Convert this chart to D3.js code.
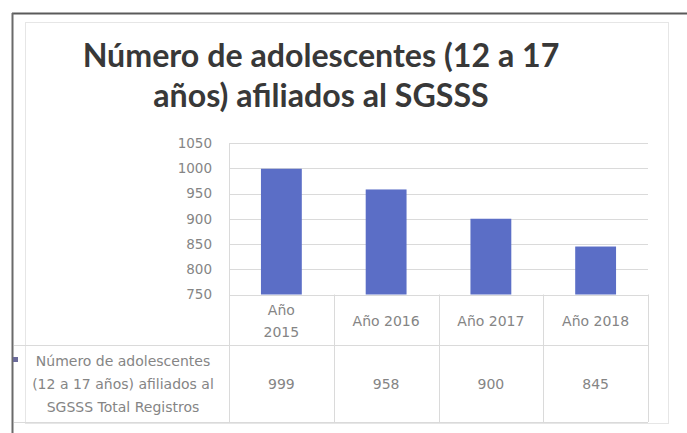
<!DOCTYPE html>
<html>
<head>
<meta charset="utf-8">
<script src="https://cdn.jsdelivr.net/npm/d3@7"></script>
<style>
  html, body { margin: 0; padding: 0; background: #ffffff; }
  svg { display: block; }
</style>
</head>
<body>
<svg id="chart" width="687" height="433"></svg>
<script>
// ---- data ----
const categories = ["Año 2015", "Año 2016", "Año 2017", "Año 2018"];
const values = [999, 958, 900, 845];
const yTicks = [750, 800, 850, 900, 950, 1000, 1050];
const titleLines = ["Número de adolescentes (12 a 17", "años) afiliados al SGSSS"];
const seriesLabelLines = ["Número de adolescentes", "(12 a 17 años) afiliados al", "SGSSS Total Registros"];
const wrappedCategories = ["Año 2015"];

// ---- layout ----
const W = 687, H = 433;
const plot = { left: 229, right: 648, top: 143, bottom: 294.5 };
const table = { headerBottom: 345, bottom: 422, left: 14 };
const barColor = "#5b6ec6";
const textGray = "#858585";
const gridGray = "#dadada";

const svg = d3.select("#chart");

// scan frame
svg.append("rect").attr("x", 0).attr("y", 0).attr("width", W).attr("height", H).attr("fill", "#ffffff");
svg.append("line").attr("x1", 12).attr("x2", W).attr("y1", 13.5).attr("y2", 13.5)
  .attr("stroke", "#5a5a5a").attr("stroke-width", 2);
svg.append("line").attr("x1", 12.5).attr("x2", 12.5).attr("y1", 13).attr("y2", H)
  .attr("stroke", "#6a6a6a").attr("stroke-width", 2);
// chart area border (light)
svg.append("rect").attr("x", 25.5).attr("y", 22.5).attr("width", 643).attr("height", 401)
  .attr("fill", "none").attr("stroke", "#e6e6e6").attr("stroke-width", 1);

// ---- title ----
const title = svg.append("g");
const titleY = [67, 107];
titleLines.forEach((t, i) => {
  title.append("text")
    .attr("x", 321).attr("y", titleY[i])
    .attr("text-anchor", "middle")
    .attr("font-family", "Lato, 'Open Sans', sans-serif")
    .attr("font-weight", "bold")
    .attr("font-size", 30)
    .attr("fill", "#383838")
    .text(t);
});
// fit first line width to about 477px
const t0 = title.select("text").node();
const w0 = t0.getComputedTextLength();
const fs = Math.max(22, Math.min(34, 30 * 477 / w0));
title.selectAll("text").attr("font-size", fs);

// ---- scales ----
const x = d3.scaleBand().domain(categories).range([plot.left, plot.right])
  .paddingInner(0.61).paddingOuter(0.305);
const xCell = d3.scaleBand().domain(categories).range([plot.left, plot.right]).padding(0);
const y = d3.scaleLinear().domain([750, 1050]).range([plot.bottom, plot.top]);

// gridlines
svg.append("g").selectAll("line").data(yTicks).join("line")
  .attr("x1", plot.left).attr("x2", plot.right)
  .attr("y1", d => Math.round(y(d)) + 0.5).attr("y2", d => Math.round(y(d)) + 0.5)
  .attr("stroke", gridGray).attr("stroke-width", 1);

// y axis labels
const yAxis = d3.axisLeft(y).tickValues(yTicks).tickFormat(d3.format("d")).tickSize(0).tickPadding(17);
const gy = svg.append("g").attr("transform", `translate(${plot.left},0)`).call(yAxis);
gy.select(".domain").attr("stroke", gridGray);
gy.selectAll("text")
  .attr("font-family", "'DejaVu Sans', sans-serif")
  .attr("font-size", 13.5)
  .attr("fill", textGray);

// bars
svg.append("g").selectAll("rect").data(values).join("rect")
  .attr("x", (d, i) => x(categories[i]))
  .attr("width", x.bandwidth())
  .attr("y", d => y(d))
  .attr("height", d => y(750) - y(d))
  .attr("fill", barColor);

// ---- data table ----
const tbl = svg.append("g");
// vertical cell lines
const vlines = categories.map(c => xCell(c)).concat([plot.right]);
tbl.selectAll("line.v").data(vlines).join("line").attr("class", "v")
  .attr("x1", d => Math.round(d) + 0.5).attr("x2", d => Math.round(d) + 0.5)
  .attr("y1", plot.bottom).attr("y2", table.bottom)
  .attr("stroke", gridGray);
// horizontal lines
tbl.append("line").attr("x1", table.left).attr("x2", plot.right)
  .attr("y1", table.headerBottom + 0.5).attr("y2", table.headerBottom + 0.5).attr("stroke", gridGray);
tbl.append("line").attr("x1", table.left).attr("x2", plot.right)
  .attr("y1", table.bottom + 0.5).attr("y2", table.bottom + 0.5).attr("stroke", gridGray);

// header labels
categories.forEach(c => {
  const cx = xCell(c) + xCell.bandwidth() / 2;
  const lines = wrappedCategories.includes(c) ? c.split(" ") : [c];
  const mid = (plot.bottom + table.headerBottom) / 2 + 1;
  lines.forEach((ln, j) => {
    tbl.append("text")
      .attr("x", cx)
      .attr("y", mid + (j - (lines.length - 1) / 2) * 22)
      .attr("dy", "0.35em")
      .attr("text-anchor", "middle")
      .attr("font-family", "'DejaVu Sans', sans-serif")
      .attr("font-size", 14)
      .attr("fill", textGray)
      .text(ln);
  });
});

// values row
tbl.selectAll("text.val").data(values).join("text").attr("class", "val")
  .attr("x", (d, i) => xCell(categories[i]) + xCell.bandwidth() / 2)
  .attr("y", (table.headerBottom + table.bottom) / 2 + 1)
  .attr("dy", "0.35em")
  .attr("text-anchor", "middle")
  .attr("font-family", "'DejaVu Sans', sans-serif")
  .attr("font-size", 14)
  .attr("fill", textGray)
  .text(d => d);

// series label with legend key
tbl.append("rect").attr("x", 13).attr("y", 357).attr("width", 5).attr("height", 5).attr("fill", "#6b6b9a");
seriesLabelLines.forEach((ln, j) => {
  tbl.append("text")
    .attr("x", 123)
    .attr("y", 361 + j * 23)
    .attr("dy", "0.35em")
    .attr("text-anchor", "middle")
    .attr("font-family", "'DejaVu Sans', sans-serif")
    .attr("font-size", 14)
    .attr("fill", textGray)
    .text(ln);
});
</script>
</body>
</html>
